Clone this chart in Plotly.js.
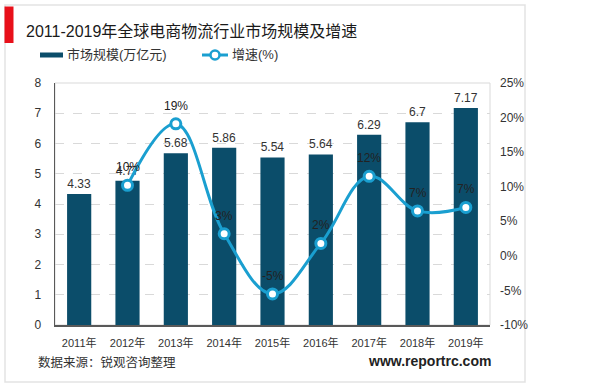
<!DOCTYPE html>
<html>
<head>
<meta charset="utf-8">
<script src="https://cdn.plot.ly/plotly-3.0.1.min.js"></script>
<style>
html,body{margin:0;padding:0;background:#fff;}
#chart{width:600px;height:387px;}
</style>
</head>
<body>
<div id="chart"></div>
<script>
// ---- data ----
const years = ["2011年","2012年","2013年","2014年","2015年","2016年","2017年","2018年","2019年"];
const marketSize = [4.33, 4.77, 5.68, 5.86, 5.54, 5.64, 6.29, 6.7, 7.17];   // 万亿元
const growthRate = [null, 10.2, 19.1, 3.2, -5.5, 1.8, 11.5, 6.5, 7.0];      // %
const leftTicks = [0,1,2,3,4,5,6,7,8];
const rightTicks = [-10,-5,0,5,10,15,20,25];
const seriesNames = ["市场规模(万亿元)", "增速(%)"];
const titleText = "2011-2019年全球电商物流行业市场规模及增速";
const sourceText = "数据来源：锐观咨询整理";
const siteText = "www.reportrc.com";

// ---- style ----
const FONT = "Liberation Sans, Arial, Noto Sans CJK SC, sans-serif";
const barColor = "#0b4d6a";
const lineColor = "#1a9fd0";

// plot area in pixels: x 55..490, y 83..325
const L = 55, R = 490, T = 83, B = 325;
const px = x => (x - L) / (R - L);
const py = y => (B - y) / (B - T);

const barTrace = {
  type: "bar", x: years, y: marketSize, name: seriesNames[0],
  width: 0.5, marker: {color: barColor},
  text: marketSize.map(v => String(v)), textposition: "outside",
  textfont: {family: FONT, size: 12, color: "#333"},
  cliponaxis: false, hoverinfo: "x+y", showlegend: false
};

const lineTrace = {
  type: "scatter", mode: "lines+markers", x: years, y: growthRate,
  yaxis: "y2", name: seriesNames[1], connectgaps: false,
  line: {color: lineColor, width: 3, shape: "spline", smoothing: 1.1},
  marker: {size: 10, color: "#fff", line: {color: lineColor, width: 3}},
  cliponaxis: false, showlegend: false
};

const shapes = [
  {type:"rect", xref:"paper", yref:"paper", x0:px(5), x1:px(525), y0:py(382), y1:py(5),
   line:{color:"#e3e3e3", width:1.5}, fillcolor:"rgba(0,0,0,0)", layer:"below"},
  {type:"rect", xref:"paper", yref:"paper", x0:0, x1:1, y0:0, y1:1,
   line:{color:"#d9d9d9", width:1}, fillcolor:"rgba(0,0,0,0)", layer:"below"},
  {type:"rect", xref:"paper", yref:"paper", x0:px(4.5), x1:px(13.5), y0:py(43), y1:py(6.5),
   line:{width:0}, fillcolor:"#e8101a"},
  {type:"rect", xref:"paper", yref:"paper", x0:px(40), x1:px(63), y0:py(57.5), y1:py(52.5),
   line:{width:0}, fillcolor:barColor},
  {type:"line", xref:"paper", yref:"paper", x0:px(202), x1:px(228), y0:py(55), y1:py(55),
   line:{color:lineColor, width:3}},
  {type:"circle", xref:"paper", yref:"paper", x0:px(210.5), x1:px(219.5), y0:py(59.5), y1:py(50.5),
   line:{color:lineColor, width:2.5}, fillcolor:"#fff"}
];

const annotations = [
  {text:titleText, xref:"paper", yref:"paper", x:px(24), y:py(31), xanchor:"left", yanchor:"middle",
   showarrow:false, font:{family:FONT, size:16, color:"#1a1a1a"}},
  {text:seriesNames[0], xref:"paper", yref:"paper", x:px(65), y:py(55), xanchor:"left", yanchor:"middle",
   showarrow:false, font:{family:FONT, size:13, color:"#333"}},
  {text:seriesNames[1], xref:"paper", yref:"paper", x:px(230), y:py(55), xanchor:"left", yanchor:"middle",
   showarrow:false, font:{family:FONT, size:13, color:"#333"}},
  {text:sourceText, xref:"paper", yref:"paper", x:px(36), y:py(362), xanchor:"left", yanchor:"middle",
   showarrow:false, font:{family:FONT, size:12.5, color:"#333"}},
  {text:"<b>"+siteText+"</b>", xref:"paper", yref:"paper", x:px(493), y:py(361), xanchor:"right", yanchor:"middle",
   showarrow:false, font:{family:FONT, size:14, color:"#222"}}
];

// growth-rate labels, positioned on the data through the y2 axis
years.forEach((yr, i) => {
  const g = growthRate[i];
  if (g === null) return;
  annotations.push({
    text: Math.round(g) + "%", xref: "x", yref: "y2", x: yr, y: g,
    yshift: 18, showarrow: false, xanchor: "center", yanchor: "middle",
    font: {family: FONT, size: 12, color: "#222"}
  });
});

const layout = {
  width: 600, height: 387,
  margin: {l: L, r: 600 - R, t: T, b: 387 - B, pad: 0},
  paper_bgcolor: "#fff", plot_bgcolor: "rgba(0,0,0,0)",
  showlegend: false,
  xaxis: {
    type: "category", range: [-0.5, 8.5], showgrid: false, zeroline: false,
    showline: true, linecolor: "#595959", linewidth: 1.5,
    ticks: "", ticklabelstandoff: 7,
    tickfont: {family: FONT, size: 11, color: "#333"}, fixedrange: true
  },
  yaxis: {
    range: [0, 8], tickvals: leftTicks, ticktext: leftTicks.map(String),
    showgrid: true, gridcolor: "#d9d9d9", griddash: "dash", gridwidth: 1,
    zeroline: false, showline: true, linecolor: "#595959", linewidth: 1.5,
    ticks: "", ticklabelstandoff: 10,
    tickfont: {family: FONT, size: 12, color: "#333"}, fixedrange: true
  },
  yaxis2: {
    range: [-10, 25], overlaying: "y", side: "right", tickvals: rightTicks,
    ticktext: rightTicks.map(v => v + "%"),
    showgrid: false, zeroline: false, showline: false, ticks: "", ticklabelstandoff: 9,
    tickfont: {family: FONT, size: 12, color: "#333"}, fixedrange: true
  },
  shapes: shapes,
  annotations: annotations,
  bargap: 0.5
};

Plotly.newPlot("chart", [barTrace, lineTrace], layout, {displayModeBar: false, staticPlot: true});
</script>
</body>
</html>
